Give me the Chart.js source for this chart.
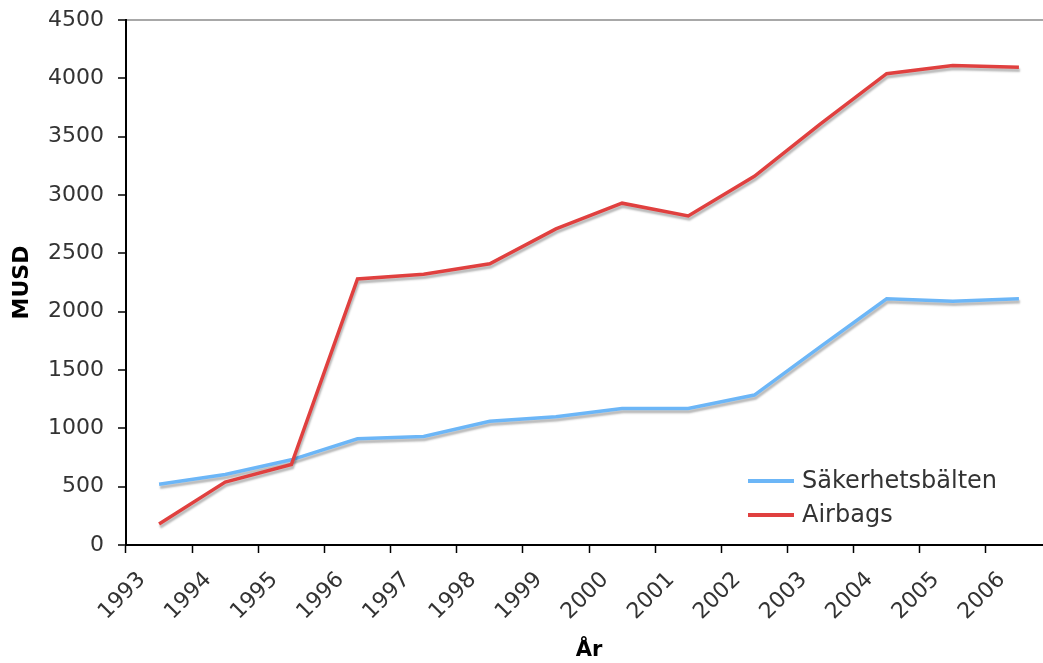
<!DOCTYPE html>
<html>
<head>
<meta charset="utf-8">
<script src="https://cdn.jsdelivr.net/npm/chart.js@4.4.1/dist/chart.umd.min.js"></script>
<style>
  html, body { margin: 0; padding: 0; background: #fff; overflow: hidden; }
  #wrap { position: relative; width: 1060px; height: 663px; }
</style>
</head>
<body>
<div id="wrap"><canvas id="chart"></canvas></div>
<script>
// data
const years = ['1993', '1994', '1995', '1996', '1997', '1998', '1999',
               '2000', '2001', '2002', '2003', '2004', '2005', '2006'];
const belts = [520, 605, 730, 910, 930, 1060, 1100, 1170, 1170, 1285, 1700, 2110, 2090, 2110];
const airbags = [180, 540, 690, 2280, 2320, 2410, 2710, 2930, 2820, 3160, 3610, 4040, 4110, 4095];
const yTicks = [0, 500, 1000, 1500, 2000, 2500, 3000, 3500, 4000, 4500];

const FONT = "'DejaVu Sans', Verdana, sans-serif";

// soft grey shadow under the lines
const shadowPlugin = {
  id: 'lineShadow',
  beforeDatasetDraw(chart) {
    const ctx = chart.ctx;
    ctx.save();
    ctx.shadowColor = 'rgba(0,0,0,0.28)';
    ctx.shadowOffsetX = 1;
    ctx.shadowOffsetY = 3;
    ctx.shadowBlur = 2;
  },
  afterDatasetDraw(chart) {
    chart.ctx.restore();
  }
};

// legend sits inside the plot, lower right
const insideLegend = {
  id: 'insideLegend',
  afterDraw(chart) {
    const ctx = chart.ctx;
    const x = 748, y0 = 481, gap = 34;
    ctx.save();
    chart.data.datasets.forEach(function(ds, i) {
      const y = y0 + i * gap;
      ctx.strokeStyle = ds.borderColor;
      ctx.lineWidth = 4;
      ctx.beginPath();
      ctx.moveTo(x, y);
      ctx.lineTo(x + 46, y);
      ctx.stroke();
      ctx.fillStyle = '#333';
      ctx.font = '24px ' + FONT;
      ctx.textBaseline = 'middle';
      ctx.fillText(ds.label, x + 54, y + 1);
    });
    ctx.restore();
  }
};

const data = {
  labels: years,
  datasets: [{
    label: 'Säkerhetsbälten',
    data: belts,
    borderColor: '#6cb6f7',
    borderWidth: 3.5,
    pointRadius: 0,
    tension: 0,
    order: 1
  }, {
    label: 'Airbags',
    data: airbags,
    borderColor: '#e0403f',
    borderWidth: 3.5,
    pointRadius: 0,
    tension: 0,
    order: 0
  }]
};

const options = {
  responsive: true,
  maintainAspectRatio: false,
  animation: false,
  layout: { padding: { top: 20, right: 8, bottom: 0, left: 0 } },
  plugins: {
    legend: { display: false },
    tooltip: { enabled: false }
  },
  scales: {
    x: {
      offset: true,
      grid: {
        offset: true,
        drawOnChartArea: false,
        drawTicks: true,
        tickLength: 8,
        tickColor: '#000',
        tickWidth: 1.5
      },
      border: { display: true, color: '#000', width: 2 },
      ticks: {
        color: '#333',
        font: { family: FONT, size: 22 },
        minRotation: 45,
        maxRotation: 45,
        padding: 14,
        labelOffset: -17,
        autoSkip: false
      },
      title: {
        display: true,
        text: 'År',
        color: '#000',
        font: { family: FONT, size: 21, weight: 'bold' },
        padding: { top: 0, bottom: 0 }
      },
      afterFit(scale) { scale.height = 118; }
    },
    y: {
      min: 0,
      max: 4500,
      afterBuildTicks(scale) {
        scale.ticks = yTicks.map(function(v) { return { value: v }; });
      },
      grid: {
        drawOnChartArea: true,
        drawTicks: true,
        tickLength: 8,
        tickColor: '#000',
        tickWidth: 1.5,
        color: function(c) {
          return c.tick && c.tick.value === 4500 ? '#a8a8a8' : 'rgba(0,0,0,0)';
        },
        lineWidth: 2
      },
      border: { display: true, color: '#000', width: 2 },
      ticks: {
        color: '#333',
        font: { family: FONT, size: 22 },
        padding: 14,
        callback: function(v) { return String(v); }
      },
      title: {
        display: true,
        text: 'MUSD',
        color: '#000',
        font: { family: FONT, size: 22, weight: 'bold' },
        padding: { top: 9, bottom: 0 }
      },
      afterFit(scale) {
        scale.width = 126;
        scale.paddingTop = 0;
        scale.paddingBottom = 0;
      }
    }
  }
};

new Chart(document.getElementById('chart'), {
  type: 'line',
  data: data,
  options: options,
  plugins: [shadowPlugin, insideLegend]
});
</script>
</body>
</html>
